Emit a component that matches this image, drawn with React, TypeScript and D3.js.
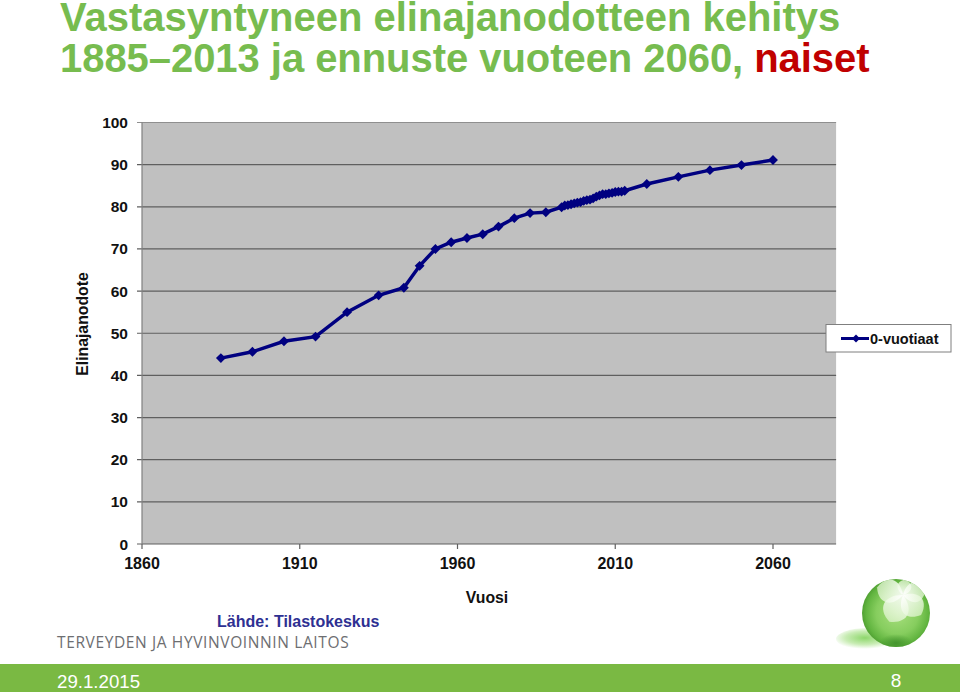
import React from "react";
import * as d3 from "d3";

const years = [
  1885, 1895, 1905, 1915, 1925, 1935, 1943, 1948, 1953, 1958, 1963, 1968, 1973, 1978, 1983, 1988,
  1993, 1994, 1995, 1996, 1997, 1998, 1999, 2000, 2001, 2002, 2003, 2004, 2005, 2006, 2007, 2008,
  2009, 2010, 2011, 2012, 2013, 2020, 2030, 2040, 2050, 2060,
];
const lifeExpectancy = [
  44.1, 45.6, 48.1, 49.2, 55.0, 59.0, 60.8, 66.0, 70.0, 71.6, 72.6, 73.5, 75.3, 77.3, 78.5, 78.7,
  79.9, 80.3, 80.4, 80.6, 80.8, 81.0, 81.1, 81.4, 81.6, 81.7, 82.0, 82.4, 82.7, 83.0, 83.0, 83.2,
  83.3, 83.5, 83.6, 83.6, 83.8, 85.4, 87.1, 88.7, 89.9, 91.1,
];
const yTicks = [0, 10, 20, 30, 40, 50, 60, 70, 80, 90, 100];
const xTicks = [1860, 1910, 1960, 2010, 2060];
const petalAngles = [117, 48, 196, -80, -13];
const petalLengths = [30, 27, 27, 16, 23];

const FONT = "'Liberation Sans', Arial, sans-serif";
const NAVY = "#000080";
const GRID = "#5f5f5f";

const x = d3.scaleLinear().domain([1860, 2060]).range([142, 773]);
const y = d3.scaleLinear().domain([0, 100]).range([544, 122.5]);

const line = d3
  .line<number>()
  .x((d) => x(d))
  .y((_, i) => y(lifeExpectancy[i]));

const diamond = d3.symbol().type(d3.symbolDiamond2).size(62)();
const legendDiamond = d3.symbol().type(d3.symbolDiamond2).size(40)();

const App = () => {
  const plotRight = x(2080);
  return (
    <svg
      width={960}
      height={692}
      style={{ position: "absolute", left: 0, top: 0, fontFamily: FONT }}
    >
      <defs>
        <radialGradient id="ball" cx="0.52" cy="0.5" r="0.52">
          <stop offset="0%" stopColor="#a8df7e" />
          <stop offset="60%" stopColor="#86cd5e" />
          <stop offset="88%" stopColor="#62b540" />
          <stop offset="100%" stopColor="#50a032" />
        </radialGradient>
        <radialGradient id="shadow" cx="0.45" cy="0.45" r="0.5">
          <stop offset="0%" stopColor="#8ed76c" />
          <stop offset="60%" stopColor="#c8ecb4" />
          <stop offset="100%" stopColor="#ffffff" />
        </radialGradient>
        <radialGradient id="ballBase" cx="0.5" cy="0.5" r="0.5">
          <stop offset="0%" stopColor="#3f8f2a" stopOpacity={0.85} />
          <stop offset="100%" stopColor="#3f8f2a" stopOpacity={0} />
        </radialGradient>
        <linearGradient id="petal" x1="0" y1="0" x2="1" y2="0">
          <stop offset="0%" stopColor="#ffffff" />
          <stop offset="100%" stopColor="#dcf3ca" stopOpacity={0.85} />
        </linearGradient>
        <clipPath id="ballClip">
          <circle cx={896} cy={613} r={34} />
        </clipPath>
      </defs>

      <text x={60} y={31} fontSize={40} fontWeight="bold" fill="#77bc4f">
        Vastasyntyneen elinajanodotteen kehitys
      </text>
      <text x={60} y={72} fontSize={40} fontWeight="bold" fill="#77bc4f" letterSpacing={-0.05}>
        1885–2013 ja ennuste vuoteen 2060, <tspan fill="#c00000">naiset</tspan>
      </text>

      {/* plot area */}
      <rect
        x={x(1860)}
        y={y(100)}
        width={plotRight - x(1860)}
        height={y(0) - y(100)}
        fill="#c0c0c0"
      />
      {yTicks.map((t) => (
        <g key={t}>
          <line
            x1={x(1860) - 5}
            x2={plotRight}
            y1={y(t)}
            y2={y(t)}
            stroke={t === 100 ? "#8f8f8f" : GRID}
            strokeWidth={1.2}
          />
          <text x={128} y={y(t) + 5.5} textAnchor="end" fontSize={15.5} fontWeight="bold" fill="#111">
            {t}
          </text>
        </g>
      ))}
      <line x1={x(1860)} x2={x(1860)} y1={y(100)} y2={y(0)} stroke="#808080" strokeWidth={1.2} />
      {xTicks.map((t) => (
        <g key={t}>
          <line x1={x(t)} x2={x(t)} y1={y(0)} y2={y(0) + 5} stroke={GRID} strokeWidth={1.2} />
          <text x={x(t)} y={569} textAnchor="middle" fontSize={16} fontWeight="bold" fill="#111">
            {t}
          </text>
        </g>
      ))}

      {/* series */}
      <path d={line(years) ?? ""} fill="none" stroke={NAVY} strokeWidth={3.5} />
      {years.map((yr, i) => (
        <path
          key={yr}
          d={diamond ?? ""}
          transform={`translate(${x(yr)},${y(lifeExpectancy[i])})`}
          fill={NAVY}
        />
      ))}

      <text
        transform="translate(87.5,324) rotate(-90)"
        textAnchor="middle"
        fontSize={15.8}
        fontWeight="bold"
        fill="#111"
      >
        Elinajanodote
      </text>
      <text x={487} y={603} textAnchor="middle" fontSize={15.8} fontWeight="bold" fill="#111">
        Vuosi
      </text>

      {/* legend */}
      <rect x={826} y={324.5} width={125} height={27.5} fill="#fff" stroke="#7f7f7f" strokeWidth={1} />
      <line x1={841} x2={869} y1={338.5} y2={338.5} stroke={NAVY} strokeWidth={3} />
      <path d={legendDiamond ?? ""} transform="translate(856,338.5)" fill={NAVY} />
      <text x={870} y={343.5} fontSize={14.5} fontWeight="bold" fill="#111">
        0-vuotiaat
      </text>

      <text x={217} y={627} fontSize={16} fontWeight="bold" fill="#2e3092">
        Lähde: Tilastokeskus
      </text>
      <text x={57} y={648} fontSize={15.5} letterSpacing={0.62} fontFamily="'Open Sans', sans-serif" fill="#6d6e71">
        TERVEYDEN JA HYVINVOINNIN LAITOS
      </text>

      {/* footer band */}
      <rect x={0} y={664} width={960} height={28} fill="#7ab943" />
      <text x={57} y={688} fontSize={18.7} fill="#fff">
        29.1.2015
      </text>
      <text x={896} y={687} textAnchor="middle" fontSize={19} fill="#fff">
        8
      </text>

      {/* logo */}
      <ellipse cx={868} cy={639} rx={32} ry={11} fill="url(#shadow)" />
      <circle cx={896} cy={613} r={34} fill="url(#ball)" />
      <g clipPath="url(#ballClip)">
        <ellipse cx={896} cy={643} rx={17} ry={9} fill="url(#ballBase)" />
        {petalAngles.map((a, i) => {
          const len = petalLengths[i];
          return (
            <path
              key={a}
              transform={`translate(903,595) rotate(${a})`}
              d={`M0,0 C${len * 0.3},${-len * 0.6} ${len * 0.8},${-len * 0.55} ${len},0 C${len * 0.8},${len * 0.55} ${len * 0.3},${len * 0.6} 0,0Z`}
              fill="url(#petal)"
              opacity={0.9}
            />
          );
        })}
      </g>
    </svg>
  );
};

export default App;
